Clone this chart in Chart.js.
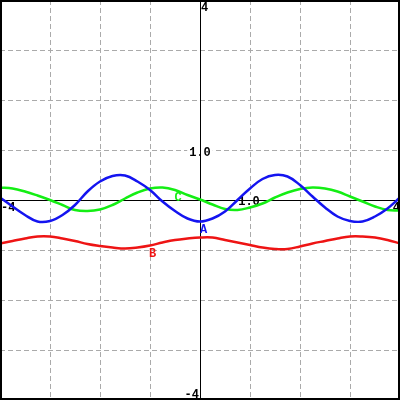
<!DOCTYPE html>
<html>
<head>
<meta charset="utf-8">
<script src="https://cdn.jsdelivr.net/npm/chart.js@4/dist/chart.umd.min.js"></script>
<style>
  html, body { margin: 0; padding: 0; background: #fff; }
  #wrap { width: 400px; height: 400px; }
</style>
</head>
<body>
<div id="wrap"><canvas id="plot"></canvas></div>
<script>
// x positions sampled every 0.25
const xs = [-4, -3.75, -3.5, -3.25, -3, -2.75, -2.5, -2.25, -2, -1.75, -1.5, -1.25, -1, -0.75, -0.5, -0.25,
            0, 0.25, 0.5, 0.75, 1, 1.25, 1.5, 1.75, 2, 2.25, 2.5, 2.75, 3, 3.25, 3.5, 3.75, 4];

// curve A (blue)
const seriesA = [0.05, -0.13, -0.30, -0.43, -0.42, -0.30, -0.10, 0.17, 0.37, 0.48, 0.49, 0.37, 0.20, -0.03, -0.22, -0.37,
                 -0.43, -0.37, -0.23, 0.00, 0.23, 0.42, 0.50, 0.47, 0.30, 0.07, -0.15, -0.33, -0.42, -0.43, -0.33, -0.17, 0.05];

// curve B (red)
const seriesB = [-0.87, -0.82, -0.77, -0.73, -0.73, -0.77, -0.82, -0.88, -0.92, -0.95, -0.97, -0.95, -0.91, -0.85, -0.80, -0.77,
                 -0.75, -0.75, -0.80, -0.85, -0.90, -0.95, -0.98, -0.98, -0.93, -0.87, -0.82, -0.77, -0.73, -0.73, -0.75, -0.80, -0.87];

// curve C (green)
const seriesC = [0.25, 0.23, 0.17, 0.09, 0.00, -0.10, -0.20, -0.22, -0.19, -0.10, 0.03, 0.15, 0.23, 0.25, 0.20, 0.10,
                 0.01, -0.09, -0.18, -0.20, -0.15, -0.07, 0.05, 0.15, 0.22, 0.25, 0.23, 0.17, 0.07, -0.03, -0.13, -0.20, -0.21];

const curveNames = ['A', 'B', 'C'];
const curveColors = ['#1414f0', '#ee1414', '#14ee14'];

const xMin = -4, xMax = 4, yMin = -4, yMax = 4;

const FONT = 'bold 12px "Liberation Mono", "DejaVu Sans Mono", monospace';

const toPoints = vals => vals.map((v, i) => ({ x: xs[i], y: v }));

// label anchors (data units, baseline)
const curveLabels = [
    { text: 'A', x: 0.07, y: -0.66, color: curveColors[0] },
    { text: 'B', x: -0.95, y: -1.14, color: curveColors[1] },
    { text: 'C', x: -0.44, y: -0.02, color: curveColors[2] }
];

const decorations = {
    id: 'decorations',
    beforeDatasetsDraw(chart) {
        const { ctx, scales: { x, y } } = chart;
        const x0 = Math.round(x.getPixelForValue(0));
        const y0 = Math.round(y.getPixelForValue(0));
        ctx.save();
        ctx.font = FONT;
        ctx.textBaseline = 'alphabetic';

        // "1.0" labels with a white box behind them
        const boxed = [
            { text: '1.0', px: x0, py: y.getPixelForValue(1) + 6 },
            { text: '1.0', px: x.getPixelForValue(1) - 1, py: y0 + 5 }
        ];
        boxed.forEach(l => {
            const w = ctx.measureText(l.text).width;
            ctx.fillStyle = '#fff';
            ctx.fillRect(l.px - w / 2 - 2, l.py - 10, w + 4, 12);
            ctx.fillStyle = '#000';
            ctx.textAlign = 'center';
            ctx.fillText(l.text, l.px, l.py);
        });

        // axes through the origin
        ctx.strokeStyle = '#000';
        ctx.lineWidth = 1;
        ctx.beginPath();
        ctx.moveTo(x0 + 0.5, chart.chartArea.top);
        ctx.lineTo(x0 + 0.5, chart.chartArea.bottom);
        ctx.moveTo(chart.chartArea.left, y0 + 0.5);
        ctx.lineTo(chart.chartArea.right, y0 + 0.5);
        ctx.stroke();

        // end labels
        ctx.fillStyle = '#000';
        ctx.textAlign = 'left';
        ctx.fillText(String(yMax), x0 + 1, y.getPixelForValue(yMax) + 11);
        ctx.textAlign = 'right';
        ctx.fillText(String(yMin), x0 - 1, y.getPixelForValue(yMin) - 2);
        ctx.textAlign = 'left';
        ctx.fillText(String(xMin), x.getPixelForValue(xMin) + 1, y0 + 11);
        ctx.textAlign = 'right';
        ctx.fillText(String(xMax), x.getPixelForValue(xMax), y0 + 11);
        ctx.restore();
    },
    afterDatasetsDraw(chart) {
        const { ctx, scales: { x, y } } = chart;
        ctx.save();
        ctx.font = FONT;
        ctx.textAlign = 'center';
        ctx.textBaseline = 'alphabetic';
        curveLabels.forEach(l => {
            ctx.fillStyle = l.color;
            ctx.fillText(l.text, x.getPixelForValue(l.x), y.getPixelForValue(l.y));
        });
        // frame
        ctx.strokeStyle = '#000';
        ctx.lineWidth = 2;
        ctx.strokeRect(1, 1, chart.width - 2, chart.height - 2);
        ctx.restore();
    }
};

const gridColor = c => {
    const v = c.tick.value;
    return (v === 0 || v === 4 || v === -4) ? 'rgba(0,0,0,0)' : '#aaaaaa';
};

new Chart(document.getElementById('plot'), {
    type: 'scatter',
    data: {
        datasets: [seriesA, seriesB, seriesC].map((vals, i) => ({
            label: curveNames[i],
            data: toPoints(vals),
            showLine: true,
            borderColor: curveColors[i],
            borderWidth: 2.5,
            pointRadius: 0,
            tension: 0.4,
            fill: false
        }))
    },
    options: {
        responsive: true,
        maintainAspectRatio: false,
        animation: false,
        layout: { padding: 0 },
        plugins: { legend: { display: false }, tooltip: { enabled: false } },
        scales: {
            x: {
                type: 'linear', min: xMin, max: xMax,
                ticks: { display: false, stepSize: 1 },
                grid: { color: gridColor, drawTicks: false, lineWidth: 1 },
                border: { display: false, dash: [5, 3] },
                afterFit: s => { s.height = 0; }
            },
            y: {
                type: 'linear', min: yMin, max: yMax,
                ticks: { display: false, stepSize: 1 },
                grid: { color: gridColor, drawTicks: false, lineWidth: 1 },
                border: { display: false, dash: [5, 3] },
                afterFit: s => { s.width = 0; }
            }
        }
    },
    plugins: [decorations]
});
</script>
</body>
</html>
